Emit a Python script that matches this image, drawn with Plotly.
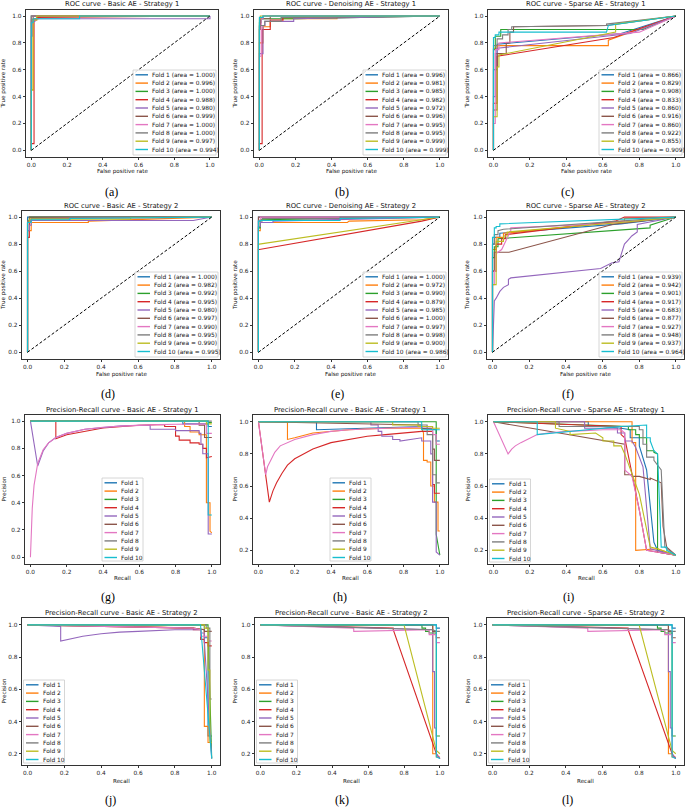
import plotly.graph_objects as go

W, H = 685, 807
COLORS = ["#1f77b4", "#ff7f0e", "#2ca02c", "#d62728", "#9467bd",
          "#8c564b", "#e377c2", "#7f7f7f", "#bcbd22", "#17becf"]
FOLDS = ["Fold %d" % i for i in range(1, 11)]
TICKS = [0.0, 0.2, 0.4, 0.6, 0.8, 1.0]
TICK_LABELS = ["0.0", "0.2", "0.4", "0.6", "0.8", "1.0"]

TITLES = [
    "ROC curve - Basic AE - Strategy 1", "ROC curve - Denoising AE - Strategy 1", "ROC curve - Sparse AE - Strategy 1",
    "ROC curve - Basic AE - Strategy 2", "ROC curve - Denoising AE - Strategy 2", "ROC curve - Sparse AE - Strategy 2",
    "Precision-Recall curve - Basic AE - Strategy 1", "Precision-Recall curve - Basic AE - Strategy 1",
    "Precision-Recall curve - Sparse AE - Strategy 1",
    "Precision-Recall curve - Basic AE - Strategy 2", "Precision-Recall curve - Basic AE - Strategy 2",
    "Precision-Recall curve - Sparse AE - Strategy 2",
]
CAPTIONS = ["(a)", "(b)", "(c)", "(d)", "(e)", "(f)", "(g)", "(h)", "(i)", "(j)", "(k)", "(l)"]

# ---------------- ROC data (false positive rate, true positive rate, AUC) ----------------
A_FPR = [[0, 0, 1], [0, 0, 0.01, 0.01, 0.04, 0.04, 1], [0, 0, 1], [0, 0, 0.015, 0.015, 0.03, 0.03, 1],
         [0, 0, 0.005, 0.005, 0.02, 0.02, 1, 1], [0, 0, 0.01, 0.01, 1], [0, 0, 1], [0, 0, 1],
         [0, 0, 0.01, 0.01, 0.03, 0.03, 1], [0, 0, 0.01, 0.01, 0.27, 0.27, 1]]
A_TPR = [[0, 1, 1], [0, 0.45, 0.45, 0.98, 0.98, 1, 1], [0, 1, 1], [0, 0.05, 0.05, 0.97, 0.97, 0.99, 1],
         [0, 0.85, 0.85, 0.96, 0.96, 0.98, 0.98, 1], [0, 0.97, 0.97, 1, 1], [0, 1, 1], [0, 1, 1],
         [0, 0.45, 0.45, 0.97, 0.97, 1, 1], [0, 0.95, 0.95, 0.98, 0.98, 1, 1]]
A_AUC = [1.000, 0.996, 1.000, 0.988, 0.980, 0.999, 1.000, 1.000, 0.997, 0.994]

B_FPR = [[0, 0, 0.005, 0.005, 0.02, 0.02, 1], [0, 0, 0.02, 0.02, 0.06, 0.06, 0.13, 0.13, 0.43, 0.43, 1],
         [0, 0, 0.01, 0.01, 0.2, 0.6, 0.9, 1], [0, 0, 0.015, 0.015, 0.06, 0.06, 0.13, 0.13, 1],
         [0, 0, 0.02, 0.02, 0.03, 0.03, 0.19, 0.19, 1], [0, 0, 0.005, 0.005, 0.06, 0.06, 1],
         [0, 0, 0.01, 0.01, 0.02, 0.02, 1], [0, 0, 0.03, 0.03, 0.12, 0.12, 1], [0, 0, 0.005, 0.005, 1],
         [0, 0, 0.02, 0.02, 1]]
B_TPR = [[0, 0.92, 0.92, 0.98, 0.98, 1, 1], [0, 0.8, 0.8, 0.92, 0.92, 0.96, 0.96, 0.98, 0.98, 0.99, 1],
         [0, 0.95, 0.95, 0.98, 0.98, 0.99, 1, 1], [0, 0.05, 0.05, 0.9, 0.9, 0.97, 0.97, 0.99, 1],
         [0, 0.72, 0.72, 0.93, 0.93, 0.96, 0.96, 0.98, 1], [0, 0.9, 0.9, 0.98, 0.98, 1, 1],
         [0, 0.7, 0.7, 0.98, 0.98, 1, 1], [0, 0.93, 0.93, 0.96, 0.96, 0.99, 1], [0, 0.98, 0.98, 1, 1],
         [0, 0.99, 0.99, 1, 1]]
B_AUC = [0.996, 0.981, 0.985, 0.982, 0.972, 0.996, 0.995, 0.995, 0.999, 0.999]

C_FPR = [[0, 0, 0.02, 0.02, 0.7, 1], [0, 0, 0.02, 0.02, 0.63, 0.63, 1], [0, 0, 0.01, 0.01, 0.04, 0.04, 0.82, 1],
         [0, 0, 0.02, 0.02, 0.66, 1], [0, 0, 0.01, 0.01, 0.02, 0.02, 0.75, 1],
         [0, 0, 0.02, 0.02, 0.07, 0.07, 0.09, 0.09, 0.11, 0.11, 0.62, 1], [0, 0, 0.01, 0.01, 0.03, 0.03, 0.8, 1],
         [0, 0, 0.02, 0.02, 0.05, 0.05, 0.08, 0.08, 0.1, 0.1, 0.62, 0.62, 1],
         [0, 0, 0.02, 0.02, 0.03, 0.03, 0.67, 0.67, 1], [0, 0, 0.01, 0.01, 0.03, 0.03, 0.62, 0.63, 0.63, 1]]
C_TPR = [[0, 0.6, 0.6, 0.79, 0.87, 1], [0, 0.76, 0.76, 0.78, 0.78, 0.82, 1], [0, 0.75, 0.75, 0.85, 0.85, 0.90, 0.90, 1],
         [0, 0.35, 0.35, 0.70, 0.84, 1], [0, 0.4, 0.4, 0.72, 0.72, 0.76, 0.87, 1],
         [0, 0.3, 0.3, 0.72, 0.72, 0.8, 0.8, 0.88, 0.88, 0.92, 0.93, 1], [0, 0.2, 0.2, 0.75, 0.75, 0.80, 0.88, 1],
         [0, 0.78, 0.78, 0.83, 0.83, 0.86, 0.86, 0.9, 0.9, 0.92, 0.93, 0.94, 1],
         [0, 0.25, 0.25, 0.62, 0.62, 0.71, 0.88, 0.94, 1], [0, 0.84, 0.84, 0.86, 0.86, 0.88, 0.88, 0.92, 0.93, 1]]
C_AUC = [0.866, 0.829, 0.908, 0.833, 0.860, 0.916, 0.860, 0.922, 0.855, 0.909]

D_FPR = [[0, 0, 1], [0, 0, 0.02, 0.02, 0.33, 0.33, 1], [0, 0, 0.01, 0.01, 1], [0, 0, 0.01, 0.01, 0.02, 0.02, 1],
         [0, 0, 0.01, 0.01, 0.02, 0.02, 0.9, 1], [0, 0, 0.01, 0.01, 1], [0, 0, 0.02, 0.02, 1],
         [0, 0, 0.02, 0.02, 0.23, 0.23, 1], [0, 0, 0.01, 0.01, 0.56, 0.56, 1], [0, 0, 0.02, 0.02, 0.23, 0.23, 1]]
D_TPR = [[0, 1, 1], [0, 0.9, 0.9, 0.96, 0.96, 0.97, 1], [0, 0.97, 0.97, 1, 1], [0, 0.85, 0.85, 0.97, 0.97, 0.99, 1],
         [0, 0.9, 0.9, 0.94, 0.94, 0.975, 0.975, 1], [0, 0.97, 0.97, 1, 1], [0, 0.96, 0.96, 0.99, 1],
         [0, 0.97, 0.97, 0.99, 0.99, 1, 1], [0, 0.96, 0.96, 0.985, 0.985, 0.995, 1], [0, 0.96, 0.96, 0.98, 0.98, 0.99, 1]]
D_AUC = [1.000, 0.982, 0.992, 0.995, 0.980, 0.997, 0.990, 0.995, 0.990, 0.995]

E_FPR = [[0, 0, 1], [0, 0, 0.01, 0.01, 0.49, 0.5, 0.9, 1], [0, 0, 0.01, 0.01, 1], [0, 0, 0.005, 0.9, 1],
         [0, 0, 0.01, 0.01, 0.08, 0.08, 1], [0, 0, 1], [0, 0, 0.01, 0.01, 1], [0, 0, 0.02, 0.02, 0.45, 0.45, 1],
         [0, 0, 0.005, 0.9, 1], [0, 0, 0.01, 0.01, 0.45, 0.45, 1]]
E_TPR = [[0, 1, 1], [0, 0.9, 0.9, 0.96, 0.96, 0.97, 0.98, 1], [0, 0.92, 0.92, 0.98, 1], [0, 0.76, 0.76, 0.97, 1],
         [0, 0.93, 0.93, 0.96, 0.96, 0.97, 1], [0, 1, 1], [0, 0.97, 0.97, 1, 1], [0, 0.97, 0.97, 0.99, 0.99, 1, 1],
         [0, 0.80, 0.80, 0.98, 1], [0, 0.97, 0.97, 0.975, 0.975, 0.99, 1]]
E_AUC = [1.000, 0.972, 0.990, 0.879, 0.985, 1.000, 0.997, 0.998, 0.900, 0.986]

F_FPR = [[0, 0, 0.01, 0.01, 0.04, 0.04, 0.7, 1], [0, 0, 0.02, 0.02, 0.06, 0.06, 0.72, 0.72, 1],
         [0, 0, 0.01, 0.01, 0.03, 0.03, 0.86, 0.86, 1], [0, 0, 0.02, 0.02, 0.05, 0.05, 0.07, 0.07, 0.67, 0.72, 1],
         [0, 0.005, 0.01, 0.02, 0.04, 0.06, 0.087, 0.087, 0.1, 0.59, 0.63, 0.65, 0.69, 0.7, 0.72, 0.74, 0.76,
          0.79, 0.79, 1],
         [0, 0, 0.01, 0.01, 0.09, 0.67, 1], [0, 0, 0.01, 0.01, 0.02, 0.02, 0.03, 0.05, 0.1, 0.1, 0.6, 1],
         [0, 0, 0.01, 0.01, 0.03, 0.03, 0.06, 0.6, 1], [0, 0, 0.02, 0.02, 0.06, 0.06, 0.08, 0.08, 0.7, 1],
         [0, 0, 0.01, 0.01, 0.02, 0.02, 0.04, 0.04, 1]]
F_TPR = [[0, 0.8, 0.8, 0.85, 0.85, 0.88, 0.95, 1], [0, 0.76, 0.76, 0.85, 0.85, 0.88, 0.97, 0.99, 1],
         [0, 0.7, 0.7, 0.78, 0.78, 0.84, 0.92, 0.94, 1], [0, 0.6, 0.6, 0.8, 0.8, 0.84, 0.84, 0.87, 0.97, 1, 1],
         [0, 0.3, 0.38, 0.40, 0.45, 0.48, 0.50, 0.54, 0.55, 0.62, 0.65, 0.66, 0.67, 0.72, 0.8, 0.83, 0.86,
          0.89, 0.945, 1],
         [0, 0.6, 0.6, 0.74, 0.74, 0.95, 1], [0, 0.5, 0.5, 0.6, 0.6, 0.73, 0.74, 0.76, 0.9, 0.92, 0.95, 1],
         [0, 0.8, 0.8, 0.87, 0.87, 0.9, 0.91, 0.96, 1], [0, 0.5, 0.5, 0.82, 0.82, 0.86, 0.86, 0.89, 0.96, 1],
         [0, 0.85, 0.85, 0.92, 0.92, 0.93, 0.93, 0.95, 1]]
F_AUC = [0.939, 0.942, 0.901, 0.917, 0.683, 0.877, 0.927, 0.948, 0.937, 0.964]

# ---------------- Precision-Recall data (recall, precision) ----------------
G_REC = [[0, 0.84, 0.84, 0.98, 0.98, 1], [0, 0.85, 0.85, 0.88, 0.88, 0.93, 0.93, 0.97, 0.97, 0.99, 0.99, 1],
         [0, 0.98, 0.98, 1],
         [0, 0.14, 0.14, 0.2, 0.4, 0.6, 0.74, 0.74, 0.8, 0.8, 0.82, 0.82, 0.86, 0.88, 0.88, 0.92, 0.93, 0.93,
          0.95, 0.95, 0.97, 0.97, 1],
         [0, 0.04, 0.07, 0.1, 0.14, 0.2, 0.3, 0.4, 0.5, 0.6, 0.66, 0.66, 0.8, 0.8, 0.93, 0.93, 0.94, 0.94, 0.95,
          0.95, 0.98, 0.98, 1],
         [0, 0.93, 0.93, 0.96, 0.96, 1],
         [0, 0.01, 0.02, 0.04, 0.07, 0.1, 0.14, 0.2, 0.3, 0.4, 0.5, 0.6, 0.7, 0.8, 0.9, 0.97, 0.97, 1],
         [0, 1], [0, 0.97, 0.97, 1], [0, 0.98, 0.98, 1]]
G_PREC = [[1, 1, 0.98, 0.98, 0.96, 0.96], [1, 1, 0.96, 0.96, 0.92, 0.92, 0.90, 0.90, 0.40, 0.40, 0.19, 0.18],
          [1, 1, 0.99, 0.99],
          [1, 1, 0.87, 0.9, 0.95, 0.97, 0.975, 0.96, 0.96, 0.89, 0.89, 0.86, 0.86, 0.86, 0.84, 0.84, 0.84, 0.83,
           0.83, 0.80, 0.80, 0.73, 0.74],
          [1, 0.67, 0.78, 0.84, 0.88, 0.91, 0.94, 0.955, 0.965, 0.97, 0.97, 0.94, 0.94, 0.93, 0.93, 0.91, 0.91,
           0.83, 0.83, 0.76, 0.76, 0.17, 0.17],
          [1, 1, 0.97, 0.97, 0.88, 0.88],
          [0, 0.36, 0.53, 0.69, 0.79, 0.84, 0.88, 0.91, 0.94, 0.955, 0.963, 0.97, 0.974, 0.977, 0.98, 0.98, 0.91, 0.91],
          [1, 1], [1, 1, 0.98, 0.98], [1, 1, 0.31, 0.31]]

H_REC = [[0, 0.32, 0.32, 0.9, 0.9, 0.98, 0.98, 1],
         [0, 0.16, 0.16, 0.2, 0.3, 0.5, 0.7, 0.9, 0.91, 0.91, 0.93, 0.93, 0.95, 0.95, 0.97, 0.97, 0.99, 0.99, 1],
         [0, 0.98, 0.98, 1],
         [0, 0.06, 0.08, 0.1, 0.13, 0.16, 0.2, 0.25, 0.3, 0.4, 0.5, 0.6, 0.7, 0.8, 0.9, 0.96, 0.96, 0.97, 0.97, 1],
         [0, 0.62, 0.62, 0.66, 0.66, 0.68, 0.68, 0.74, 0.74, 0.78, 0.78, 0.9, 0.9, 0.95, 0.95, 0.96, 0.96, 0.98,
          0.98, 1],
         [0, 0.9, 0.9, 0.96, 0.96, 0.97, 0.97, 1],
         [0, 0.04, 0.05, 0.07, 0.09, 0.12, 0.16, 0.2, 0.3, 0.4, 0.5, 0.6, 0.7, 0.8, 0.9, 0.96, 0.96, 0.98, 0.98, 1],
         [0, 0.88, 0.88, 0.93, 0.93, 0.96, 0.96, 0.98, 0.98, 1],
         [0, 0.74, 0.74, 0.88, 0.88, 0.96, 0.96, 1], [0, 0.9, 0.9, 1]]
H_PREC = [[1, 1, 0.95, 0.97, 0.96, 0.95, 0.88, 0.88],
          [1, 1, 0.89, 0.9, 0.93, 0.95, 0.96, 0.96, 0.93, 0.76, 0.76, 0.75, 0.75, 0.6, 0.6, 0.5, 0.5, 0.32, 0.32],
          [1, 1, 0.3, 0.17],
          [1, 0.5, 0.57, 0.62, 0.68, 0.73, 0.77, 0.8, 0.83, 0.87, 0.89, 0.91, 0.92, 0.93, 0.94, 0.94, 0.61, 0.61,
           0.555, 0.555],
          [1, 1, 0.98, 0.98, 0.94, 0.94, 0.91, 0.91, 0.89, 0.89, 0.88, 0.9, 0.88, 0.88, 0.8, 0.8, 0.5, 0.5, 0.19, 0.17],
          [1, 0.98, 0.96, 0.96, 0.83, 0.83, 0.76, 0.76],
          [1, 0.67, 0.72, 0.77, 0.81, 0.85, 0.87, 0.89, 0.92, 0.94, 0.95, 0.955, 0.96, 0.965, 0.97, 0.97, 0.92, 0.92,
           0.86, 0.86],
          [1, 1, 0.98, 0.98, 0.92, 0.92, 0.67, 0.67, 0.62, 0.62],
          [1, 1, 0.98, 0.98, 0.97, 0.97, 0.96, 0.96], [1, 1, 0.95, 0.95]]

I_REC = [[0, 0.52, 0.52, 0.6, 0.7, 0.75, 0.75, 0.8, 0.8, 0.84, 0.88, 0.9, 1],
         [0, 0.76, 0.76, 0.78, 0.78, 0.9, 1],
         [0, 0.74, 0.74, 0.78, 0.78, 0.8, 0.8, 0.84, 0.84, 0.88, 0.88, 0.9, 0.9, 1],
         [0, 0.7, 0.7, 0.72, 0.8, 0.84, 1],
         [0, 0.5, 0.5, 0.68, 0.68, 0.72, 0.72, 0.76, 0.78, 0.82, 0.86, 1],
         [0, 0.7, 0.72, 0.72, 0.76, 0.76, 0.8, 0.86, 0.86, 0.92, 0.93, 0.95, 1],
         [0, 0.08, 0.1, 0.12, 0.15, 0.2, 0.24, 0.3, 0.4, 0.5, 0.6, 0.7, 0.72, 0.72, 0.76, 0.8, 0.84, 1],
         [0, 0.36, 0.36, 0.8, 0.8, 0.82, 0.82, 0.84, 0.84, 0.88, 0.88, 0.92, 0.94, 1],
         [0, 0.34, 0.34, 0.42, 0.42, 0.56, 0.6, 0.6, 0.66, 0.66, 0.7, 0.72, 0.8, 0.86, 0.9, 1],
         [0, 0.24, 0.24, 0.5, 0.7, 0.84, 0.84, 0.86, 0.86, 0.88, 0.9, 0.92, 0.95, 0.95, 1]]
I_PREC = [[1, 1, 0.97, 0.97, 0.96, 0.95, 0.9, 0.9, 0.85, 0.7, 0.25, 0.2, 0.17],
          [1, 1, 0.87, 0.87, 0.2, 0.21, 0.17],
          [1, 0.97, 0.95, 0.95, 0.92, 0.92, 0.9, 0.9, 0.82, 0.82, 0.81, 0.8, 0.19, 0.17],
          [1, 0.97, 0.92, 0.9, 0.45, 0.2, 0.17],
          [1, 1, 0.96, 0.96, 0.93, 0.93, 0.88, 0.88, 0.84, 0.72, 0.21, 0.17],
          [1, 0.86, 0.86, 0.67, 0.67, 0.66, 0.66, 0.64, 0.65, 0.62, 0.35, 0.22, 0.17],
          [1, 0.8, 0.83, 0.85, 0.87, 0.9, 0.92, 0.93, 0.94, 0.945, 0.95, 0.95, 0.93, 0.7, 0.66, 0.45, 0.2, 0.17],
          [1, 1, 0.97, 0.97, 0.95, 0.95, 0.86, 0.86, 0.78, 0.78, 0.76, 0.7, 0.22, 0.17],
          [1, 1, 0.96, 0.94, 0.92, 0.93, 0.9, 0.88, 0.88, 0.85, 0.85, 0.8, 0.55, 0.22, 0.21, 0.17],
          [1, 1, 0.92, 0.95, 0.97, 0.98, 0.9, 0.9, 0.88, 0.82, 0.8, 0.22, 0.22, 0.2, 0.17]]

J_REC = [[0, 0.96, 0.96, 0.98, 0.98, 1], [0, 0.58, 0.58, 0.9, 0.96, 0.96, 0.98, 0.98, 1], [0, 0.98, 0.98, 1],
         [0, 0.9, 0.9, 0.94, 0.94, 0.96, 0.96, 0.98, 0.98, 1],
         [0, 0.18, 0.18, 0.2, 0.3, 0.4, 0.5, 0.6, 0.7, 0.8, 0.9, 0.94, 0.94, 0.96, 0.96, 1],
         [0, 0.9, 0.96, 0.96, 1], [0, 0.9, 0.94, 0.94, 0.98, 0.98, 1], [0, 0.97, 0.97, 0.99, 0.99, 1],
         [0, 0.96, 0.96, 0.98, 0.98, 0.99, 0.99, 1], [0, 0.94, 0.94, 1]]
J_PREC = [[1, 1, 0.92, 0.92, 0.31, 0.31], [1, 1, 0.99, 0.98, 0.97, 0.37, 0.37, 0.27, 0.27], [1, 1, 0.97, 0.17],
          [1, 0.98, 0.97, 0.97, 0.91, 0.91, 0.89, 0.89, 0.87, 0.87],
          [1, 0.99, 0.9, 0.905, 0.93, 0.945, 0.955, 0.96, 0.965, 0.97, 0.97, 0.97, 0.95, 0.95, 0.9, 0.17],
          [1, 0.98, 0.97, 0.96, 0.96], [1, 0.98, 0.97, 0.93, 0.93, 0.9, 0.9], [1, 1, 0.98, 0.98, 0.54, 0.54],
          [1, 1, 0.98, 0.98, 0.72, 0.72, 0.27, 0.27], [1, 1, 0.99, 0.17]]

K_REC = [[0, 0.98, 0.98, 1], [0, 0.96, 0.96, 0.98, 0.98, 1], [0, 0.9, 0.9, 0.92, 0.92, 0.94, 0.94, 0.98, 0.98, 1],
         [0, 0.74, 0.74, 0.96, 0.98, 1], [0, 0.96, 0.96, 0.97, 0.97, 0.98, 0.98, 1], [0, 0.96, 0.96, 0.98, 0.98, 1],
         [0, 0.52, 0.52, 0.94, 0.94, 0.98, 0.98, 1], [0, 0.96, 0.98, 1], [0, 0.8, 0.98, 1], [0, 0.98, 0.98, 1]]
K_PREC = [[1, 1, 0.98, 0.98], [1, 1, 0.2, 0.2, 0.18, 0.18], [1, 1, 0.98, 0.98, 0.96, 0.96, 0.95, 0.95, 0.31, 0.31],
          [1, 0.98, 0.97, 0.27, 0.2, 0.17], [1, 0.97, 0.71, 0.71, 0.36, 0.36, 0.2, 0.17], [1, 1, 0.96, 0.96, 0.92, 0.92],
          [1, 0.98, 0.96, 0.97, 0.94, 0.94, 0.89, 0.89], [1, 0.97, 0.96, 0.96], [1, 1, 0.22, 0.2], [1, 1, 0.18, 0.17]]

L_REC = [[0, 0.98, 0.98, 1], [0, 0.96, 0.96, 0.98, 0.98, 1], [0, 0.9, 0.9, 0.92, 0.92, 0.94, 0.94, 0.98, 0.98, 1],
         [0, 0.74, 0.74, 0.96, 0.98, 1], [0, 0.96, 0.96, 0.97, 0.97, 0.98, 0.98, 1], [0, 0.96, 0.96, 0.98, 0.98, 1],
         [0, 0.52, 0.52, 0.94, 0.94, 0.98, 0.98, 1], [0, 0.96, 0.98, 1], [0, 0.8, 0.98, 1], [0, 0.98, 0.98, 1]]
L_PREC = [[1, 1, 0.98, 0.98], [1, 1, 0.2, 0.2, 0.18, 0.18], [1, 1, 0.98, 0.98, 0.96, 0.96, 0.95, 0.95, 0.31, 0.31],
          [1, 0.98, 0.97, 0.27, 0.2, 0.17], [1, 0.97, 0.71, 0.71, 0.36, 0.36, 0.2, 0.17], [1, 1, 0.96, 0.96, 0.92, 0.92],
          [1, 0.98, 0.96, 0.97, 0.94, 0.94, 0.89, 0.89], [1, 0.97, 0.96, 0.96], [1, 1, 0.22, 0.2], [1, 1, 0.18, 0.17]]

# ---------------- layout constants ----------------
PANELS = [
    ("roc", A_FPR, A_TPR, A_AUC), ("roc", B_FPR, B_TPR, B_AUC), ("roc", C_FPR, C_TPR, C_AUC),
    ("roc", D_FPR, D_TPR, D_AUC), ("roc", E_FPR, E_TPR, E_AUC), ("roc", F_FPR, F_TPR, F_AUC),
    ("pr", G_REC, G_PREC, None), ("pr", H_REC, H_PREC, None), ("pr", I_REC, I_PREC, None),
    ("pr", J_REC, J_PREC, None), ("pr", K_REC, K_PREC, None), ("pr", L_REC, L_PREC, None),
]
# frame (left, right, top, bottom) in pixels
FRAMES = [
    (26, 218, 10, 157), (254, 448, 10, 157), (488, 684, 10, 157),
    (22, 220, 211, 359), (253, 448, 211, 359), (487, 684, 211, 359),
    (25, 220, 415, 564), (253, 448, 415, 564), (488, 684, 415, 564),
    (22, 220, 618, 765), (255, 448, 618, 765), (487, 684, 618, 765),
]
YRANGES = [[-0.05, 1.045]] * 7 + [[0.115, 1.042]] * 2 + [[0.13, 1.043]] * 3
LEG_LOC = ["lr"] * 6 + ["lc", "lc", "ll", "ll", "ll", "ll"]
YTITLE_X = [3, 235, 467, 3, 235, 467, 3, 234, 467, 3, 234, 467]
XTITLE_Y = [171, 171, 171, 374, 374, 374, 578, 578, 578, 781, 781, 781]
TITLE_Y = [4, 4, 4, 206, 206, 206, 410, 410, 410, 613, 613, 613]
CAP_X = [111, 342, 567, 108, 337, 568, 108, 340, 568, 110, 342, 567]
CAP_Y = [192, 192, 192, 394, 394, 394, 597, 597, 597, 800, 800, 800]

FONT = "DejaVu Sans"


def px(x):
    return x / W


def py(y):
    return 1 - y / H


fig = go.Figure()
shapes = []
annotations = []


def ann(x, y, text, size, xanchor="center", angle=0, family=FONT, color="#111"):
    annotations.append(dict(x=px(x), y=py(y), xref="paper", yref="paper", text=text, showarrow=False,
                            xanchor=xanchor, yanchor="middle", textangle=angle,
                            font=dict(family=family, size=size, color=color), borderpad=0))


for k, (kind, xs, ys, aucs) in enumerate(PANELS):
    sfx = "" if k == 0 else str(k + 1)
    l, r, t, b = FRAMES[k]
    for i in range(10):
        fig.add_trace(go.Scatter(x=xs[i], y=ys[i], mode="lines", xaxis="x" + sfx, yaxis="y" + sfx,
                                 line=dict(color=COLORS[i], width=1.1), showlegend=False, hoverinfo="skip"))
    if kind == "roc":
        fig.add_trace(go.Scatter(x=[0, 1], y=[0, 1], mode="lines", xaxis="x" + sfx, yaxis="y" + sfx,
                                 line=dict(color="black", width=1, dash="3px,2px"), showlegend=False,
                                 hoverinfo="skip"))
    axcommon = dict(showline=True, mirror=True, linecolor="#333", linewidth=0.8, showgrid=False, zeroline=False,
                    ticks="outside", ticklen=2.5, tickwidth=0.7, tickcolor="#333",
                    tickfont=dict(family=FONT, size=5.8, color="#222"), fixedrange=True)
    fig.layout["xaxis" + sfx] = dict(domain=[px(l), px(r)], anchor="y" + sfx, range=[-0.03, 1.045],
                                     tickvals=TICKS, ticktext=TICK_LABELS, **axcommon)
    fig.layout["yaxis" + sfx] = dict(domain=[py(b), py(t)], anchor="x" + sfx, range=YRANGES[k],
                                     tickvals=TICKS, ticktext=TICK_LABELS, **axcommon)

    # titles and labels
    cx = (l + r) / 2
    ann(cx, TITLE_Y[k], TITLES[k], 6.8)
    ann(cx, XTITLE_Y[k], "False positive rate" if kind == "roc" else "Recall", 5.6)
    ann(YTITLE_X[k], (t + b) / 2, "True positive rate" if kind == "roc" else "Precision", 5.6, angle=-90)
    ann(CAP_X[k], CAP_Y[k], CAPTIONS[k], 12, family="Liberation Serif", color="#000")

    # legend (drawn manually for matplotlib-like compact spacing)
    if kind == "roc":
        labels = ["%s (area = %.3f)" % (FOLDS[i], aucs[i]) for i in range(10)]
        bw, bh = 83, 85
    else:
        labels = FOLDS
        bw, bh = 41, 83
    loc = LEG_LOC[k]
    if loc == "lr":
        bx1 = r - 2
        bx0 = bx1 - bw
        by1 = b - 2
    elif loc == "lc":
        bx0 = cx - bw / 2
        bx1 = bx0 + bw
        by1 = b - 3
    else:
        bx0 = l + 1.5
        bx1 = bx0 + bw
        by1 = b - 2
    by0 = by1 - bh
    shapes.append(dict(type="rect", xref="paper", yref="paper", x0=px(bx0), x1=px(bx1), y0=py(by1), y1=py(by0),
                       fillcolor="rgba(255,255,255,0.85)", line=dict(color="#cccccc", width=0.8), layer="above"))
    for i in range(10):
        ey = by0 + 4.8 + i * 8.3
        shapes.append(dict(type="line", xref="paper", yref="paper", x0=px(bx0 + 2.5), x1=px(bx0 + 15),
                           y0=py(ey), y1=py(ey), line=dict(color=COLORS[i], width=1.4), layer="above"))
        ann(bx0 + 18, ey, labels[i], 5.9, xanchor="left")

fig.update_layout(width=W, height=H, margin=dict(l=0, r=0, t=0, b=0), paper_bgcolor="white",
                  plot_bgcolor="white", showlegend=False, shapes=shapes, annotations=annotations)
fig.write_html("out.html", config={"displayModeBar": False},
               post_script="document.body.style.margin='0';document.body.style.overflow='hidden';")
